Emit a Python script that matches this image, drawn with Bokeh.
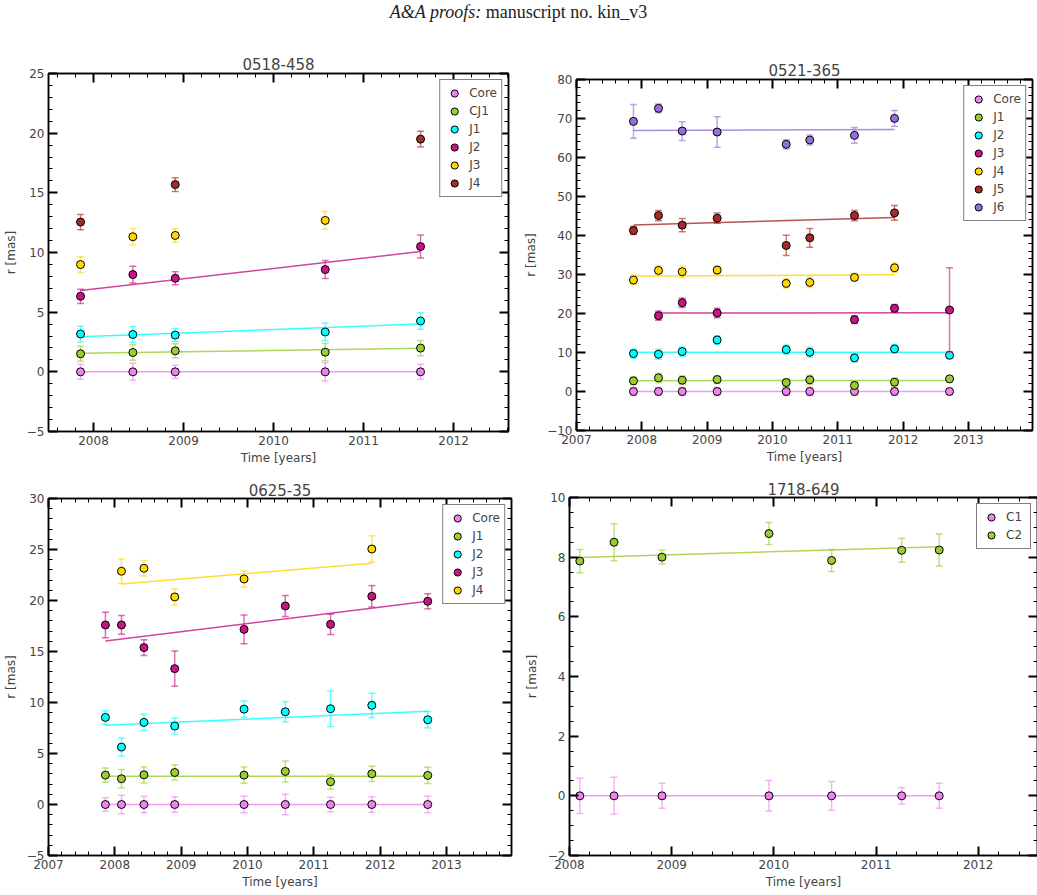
from bokeh.plotting import figure
from bokeh.models import (ColumnDataSource, Legend, LegendItem, LinearAxis,
                          SingleIntervalTicker, Range1d, CustomJSTickFormatter,
                          CustomLabelingPolicy, Div)
from bokeh.layouts import column, row
from bokeh.embed import file_html
from bokeh.resources import INLINE

FONT = "DejaVu Sans"

VIOLET = "#ee82ee"
GREEN = "#9acd32"
CYAN = "#00ffff"
MAGENTA = "#c71585"
GOLD = "#ffd700"
BROWN = "#a52a2a"
PURPLE = "#9370db"

# ---------------- 0518-458 ----------------
T_0518 = [2007.856, 2008.437, 2008.908, 2010.574, 2011.633]
CORE_0518 = [0.0, 0.0, 0.0, 0.0, 0.0]
CORE_0518_ERR = [0.63, 0.71, 0.55, 0.77, 0.63]
CJ1_0518 = [1.51, 1.62, 1.76, 1.65, 1.99]
CJ1_0518_ERR = [0.63, 0.64, 0.59, 0.73, 0.64]
J1_0518 = [3.17, 3.13, 3.08, 3.34, 4.26]
J1_0518_ERR = [0.64, 0.67, 0.53, 0.74, 0.69]
J2_0518 = [6.33, 8.15, 7.84, 8.57, 10.50]
J2_0518_ERR = [0.60, 0.70, 0.55, 0.75, 0.97]
T_0518_J3 = [2007.856, 2008.437, 2008.908, 2010.574]
J3_0518 = [8.99, 11.32, 11.43, 12.69]
J3_0518_ERR = [0.66, 0.70, 0.57, 0.74]
T_0518_J4 = [2007.856, 2008.908, 2011.633]
J4_0518 = [12.55, 15.69, 19.50]
J4_0518_ERR = [0.64, 0.57, 0.66]
# linear fits: value at first and last epoch
FIT_0518_CORE = [0.0, 0.0]
FIT_0518_CJ1 = [1.55, 1.97]
FIT_0518_J1 = [2.94, 4.00]
FIT_0518_J2 = [6.81, 10.08]

# ---------------- 0521-365 ----------------
T_0521 = [2007.872, 2008.255, 2008.618, 2009.153, 2010.210, 2010.571,
          2011.255, 2011.868, 2012.710]
CORE_0521 = [0.0] * 9
CORE_0521_ERR = [1.0, 1.0, 1.0, 1.0, 1.0, 1.1, 1.0, 1.0, 0.8]
J1_0521 = [2.73, 3.50, 2.90, 3.07, 2.30, 2.99, 1.54, 2.39, 3.24]
J1_0521_ERR = [1.0, 1.2, 1.1, 1.0, 1.0, 1.2, 1.0, 1.0, 0.6]
J2_0521 = [9.72, 9.55, 10.24, 13.22, 10.75, 10.07, 8.62, 10.92, 9.29]
J2_0521_ERR = [1.2, 1.3, 1.2, 1.1, 1.2, 1.3, 1.0, 1.1, 0.8]
T_0521_J3 = [2008.255, 2008.618, 2009.153, 2011.255, 2011.868, 2012.710]
J3_0521 = [19.45, 22.77, 20.13, 18.42, 21.32, 20.90]
J3_0521_ERR = [1.2, 1.2, 1.2, 1.0, 1.0, 10.8]
T_0521_J4 = T_0521[:8]
J4_0521 = [28.58, 31.04, 30.71, 31.14, 27.71, 27.97, 29.25, 31.73]
J4_0521_ERR = [1.2, 1.2, 1.5, 1.1, 1.2, 1.3, 1.0, 1.2]
J5_0521 = [41.28, 45.11, 42.65, 44.44, 37.44, 39.41, 45.11, 45.80]
J5_0521_ERR = [1.0, 1.3, 1.7, 1.3, 2.6, 2.4, 1.3, 1.9]
J6_0521 = [69.26, 72.60, 66.79, 66.53, 63.38, 64.48, 65.68, 70.03]
J6_0521_ERR = [4.35, 1.15, 2.4, 3.9, 1.2, 1.3, 2.0, 2.0]
FIT_0521_CORE = [0.0, 0.0]
FIT_0521_J1 = [2.75, 2.85]
FIT_0521_J2 = [10.07, 10.07]
FIT_0521_J3 = [20.10, 20.20]
FIT_0521_J4 = [29.60, 29.95]
FIT_0521_J5 = [42.70, 44.60]
FIT_0521_J6 = [66.95, 67.20]

# ---------------- 0625-35 ----------------
T_0625 = [2007.858, 2008.100, 2008.439, 2008.903, 2009.948, 2010.570,
          2011.252, 2011.874, 2012.717]
CORE_0625 = [0.0] * 9
CORE_0625_ERR = [0.67, 0.90, 0.80, 0.75, 0.80, 1.00, 0.70, 0.75, 0.80]
J1_0625 = [2.88, 2.52, 2.91, 3.14, 2.88, 3.24, 2.23, 3.01, 2.85]
J1_0625_ERR = [0.70, 0.90, 0.80, 0.75, 0.80, 1.03, 0.70, 0.75, 0.80]
J2_0625 = [8.54, 5.63, 8.05, 7.69, 9.35, 9.09, 9.39, 9.72, 8.31]
J2_0625_ERR = [0.65, 0.90, 0.80, 0.77, 0.80, 1.00, 1.75, 1.20, 0.80]
J3_0625 = [17.60, 17.60, 15.38, 13.32, 17.17, 19.46, 17.66, 20.41, 19.92]
J3_0625_ERR = [1.26, 0.92, 0.77, 1.72, 1.40, 1.03, 1.00, 1.05, 0.74]
T_0625_J4 = [2008.100, 2008.439, 2008.903, 2009.948, 2011.874]
J4_0625 = [22.87, 23.16, 20.35, 22.11, 25.05]
J4_0625_ERR = [1.20, 0.77, 0.78, 0.78, 1.30]
FIT_0625_CORE = [0.0, 0.0]
FIT_0625_J1 = [2.78, 2.78]
FIT_0625_J2 = [7.78, 9.13]
FIT_0625_J3 = [16.03, 19.92]
FIT_0625_J4 = [21.62, 23.65]

# ---------------- 1718-649 ----------------
T_1718 = [2008.101, 2008.436, 2008.905, 2009.952, 2010.565, 2011.251, 2011.618]
C1_1718 = [0.0] * 7
C1_1718_ERR = [0.59, 0.62, 0.42, 0.51, 0.48, 0.28, 0.42]
C2_1718 = [7.87, 8.50, 8.00, 8.79, 7.89, 8.23, 8.24]
C2_1718_ERR = [0.39, 0.62, 0.23, 0.37, 0.37, 0.40, 0.54]
FIT_1718_C1 = [0.0, 0.0]
FIT_1718_C2 = [7.99, 8.35]

MINUS_FORMATTER = "return tick < 0 ? '\u2212' + Math.abs(tick) : String(tick);"


def style_axis(ax, labels=True):
    ax.axis_line_color = "black"
    ax.axis_line_width = 1.5
    ax.major_tick_in = 9
    ax.major_tick_out = 0
    ax.minor_tick_in = 4
    ax.minor_tick_out = 0
    ax.major_tick_line_color = "black"
    ax.major_tick_line_width = 2
    ax.minor_tick_line_color = "black"
    ax.minor_tick_line_width = 1
    if labels:
        ax.major_label_text_font = FONT
        ax.major_label_text_font_size = "12px"
        ax.major_label_standoff = 4
        ax.axis_label_text_font = FONT
        ax.axis_label_text_font_size = "12px"
        ax.axis_label_text_font_style = "normal"
        ax.formatter = CustomJSTickFormatter(code=MINUS_FORMATTER)
    else:
        # tick marks only on the mirrored sides
        ax.major_label_text_font_size = "0px"
        ax.major_label_policy = CustomLabelingPolicy(code="return []")
        ax.major_label_standoff = 0


def panel(title, comps, xr, yr, y_step, y_minor, fw, fh, mbl, mbr, mbt, mbb,
          title_gap):
    p = figure(title=title, x_range=Range1d(*xr), y_range=Range1d(*yr),
               frame_width=fw, frame_height=fh,
               min_border_left=mbl, min_border_right=mbr,
               min_border_top=mbt, min_border_bottom=mbb,
               x_axis_label="Time [years]", y_axis_label="r [mas]",
               output_backend="svg", toolbar_location=None, margin=0)
    p.grid.visible = False
    p.outline_line_color = "black"
    p.outline_line_width = 1.5
    p.background_fill_color = "white"
    p.border_fill_color = "white"
    p.title.align = "center"
    p.title.text_font = FONT
    p.title.text_font_size = "15px"
    p.title.text_font_style = "normal"
    p.title.standoff = title_gap

    xt = SingleIntervalTicker(interval=1, num_minor_ticks=5)
    yt = SingleIntervalTicker(interval=y_step, num_minor_ticks=y_minor)
    p.xaxis.ticker = xt
    p.yaxis.ticker = yt
    style_axis(p.xaxis[0])
    style_axis(p.yaxis[0])
    p.xaxis.axis_label_standoff = 3
    p.yaxis.axis_label_standoff = 6
    top = LinearAxis(ticker=xt)
    right = LinearAxis(ticker=yt)
    style_axis(top, labels=False)
    style_axis(right, labels=False)
    p.add_layout(top, "above")
    p.add_layout(right, "right")

    items = []
    for label, t, r, err, fit, color in comps:
        src = ColumnDataSource(dict(t=t, r=r,
                                    lo=[v - e for v, e in zip(r, err)],
                                    hi=[v + e for v, e in zip(r, err)]))
        if fit is not None:
            p.line(x=[t[0], t[-1]], y=fit, line_color=color, line_alpha=0.8,
                   line_width=1.5)
        p.segment(x0="t", y0="lo", x1="t", y1="hi", source=src,
                  line_color=color, line_alpha=0.6, line_width=1.5)
        for end in ("lo", "hi"):
            p.scatter(x="t", y=end, source=src, marker="dash", size=7,
                      line_color=color, line_alpha=0.6, line_width=1.5)
        mk = p.scatter(x="t", y="r", source=src, marker="circle", size=8,
                       fill_color=color, line_color="black", line_width=1)
        items.append(LegendItem(label=label, renderers=[mk]))

    leg = Legend(items=items, location="top_right")
    leg.border_line_color = "black"
    leg.border_line_width = 1.2
    leg.background_fill_color = "white"
    leg.background_fill_alpha = 1
    leg.label_text_font = FONT
    leg.label_text_font_size = "12px"
    leg.glyph_height = 18
    leg.glyph_width = 20
    leg.label_height = 18
    leg.label_standoff = 5
    leg.spacing = 0
    leg.padding = 4
    leg.margin = 6
    p.add_layout(leg)
    return p


p1 = panel("0518-458", [
    ("Core", T_0518, CORE_0518, CORE_0518_ERR, FIT_0518_CORE, VIOLET),
    ("CJ1", T_0518, CJ1_0518, CJ1_0518_ERR, FIT_0518_CJ1, GREEN),
    ("J1", T_0518, J1_0518, J1_0518_ERR, FIT_0518_J1, CYAN),
    ("J2", T_0518, J2_0518, J2_0518_ERR, FIT_0518_J2, MAGENTA),
    ("J3", T_0518_J3, J3_0518, J3_0518_ERR, None, GOLD),
    ("J4", T_0518_J4, J4_0518, J4_0518_ERR, None, BROWN),
], (2007.5, 2012.61), (-5, 25), 5, 5, 460, 358, 47, 13, 33, 39, 7)

p2 = panel("0521-365", [
    ("Core", T_0521, CORE_0521, CORE_0521_ERR, FIT_0521_CORE, VIOLET),
    ("J1", T_0521, J1_0521, J1_0521_ERR, FIT_0521_J1, GREEN),
    ("J2", T_0521, J2_0521, J2_0521_ERR, FIT_0521_J2, CYAN),
    ("J3", T_0521_J3, J3_0521, J3_0521_ERR, FIT_0521_J3, MAGENTA),
    ("J4", T_0521_J4, J4_0521, J4_0521_ERR, FIT_0521_J4, GOLD),
    ("J5", T_0521_J4, J5_0521, J5_0521_ERR, FIT_0521_J5, BROWN),
    ("J6", T_0521_J4, J6_0521, J6_0521_ERR, FIT_0521_J6, PURPLE),
], (2007.0, 2013.98), (-10, 80), 10, 5, 456, 351, 55, 6, 39, 40, 7)

p3 = panel("0625-35", [
    ("Core", T_0625, CORE_0625, CORE_0625_ERR, FIT_0625_CORE, VIOLET),
    ("J1", T_0625, J1_0625, J1_0625_ERR, FIT_0625_J1, GREEN),
    ("J2", T_0625, J2_0625, J2_0625_ERR, FIT_0625_J2, CYAN),
    ("J3", T_0625, J3_0625, J3_0625_ERR, FIT_0625_J3, MAGENTA),
    ("J4", T_0625_J4, J4_0625, J4_0625_ERR, FIT_0625_J4, GOLD),
], (2007.0, 2013.98), (-5, 30), 5, 5, 463, 357, 47, 10, 28, 40, 5)

p4 = panel("1718-649", [
    ("C1", T_1718, C1_1718, C1_1718_ERR, FIT_1718_C1, VIOLET),
    ("C2", T_1718, C2_1718, C2_1718_ERR, FIT_1718_C2, GREEN),
], (2008.0, 2012.58), (-2, 10), 2, 4, 468, 358, 47, 2, 27, 40, 5)

header = Div(text="<i>A&amp;A proofs:</i> manuscript no. kin_v3",
             width=1037, height=40, margin=0,
             styles={"text-align": "center", "font-family": "Liberation Serif",
                     "font-size": "18px", "padding-top": "0px",
                     "color": "#222222"})

# each panel sits in its own column so the frames keep their own offsets
top_row = row(column(p1, margin=0), column(p2, margin=0), margin=0, spacing=0)
bottom_row = row(column(p3, margin=0), column(p4, margin=0), margin=0, spacing=0)
page = column(header, top_row, bottom_row, margin=0, spacing=0)

open("out.html", "w").write(file_html(page, INLINE))
